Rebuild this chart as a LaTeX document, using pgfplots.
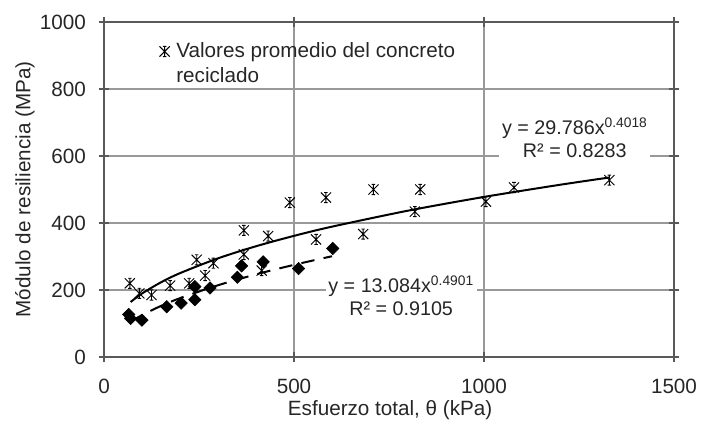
\documentclass[border=0pt]{standalone}
\usepackage{fontspec}
\setmainfont{Liberation Sans}
\usepackage{pgfplots}
\pgfplotsset{compat=1.18}
\pgfdeclareplotmark{xlstar}{%
  \pgfpathmoveto{\pgfqpoint{-\pgfplotmarksize}{-\pgfplotmarksize}}%
  \pgfpathlineto{\pgfqpoint{\pgfplotmarksize}{\pgfplotmarksize}}%
  \pgfpathmoveto{\pgfqpoint{-\pgfplotmarksize}{\pgfplotmarksize}}%
  \pgfpathlineto{\pgfqpoint{\pgfplotmarksize}{-\pgfplotmarksize}}%
  \pgfpathmoveto{\pgfqpoint{0pt}{-\pgfplotmarksize}}%
  \pgfpathlineto{\pgfqpoint{0pt}{\pgfplotmarksize}}%
  \pgfpathmoveto{\pgfqpoint{-0.35\pgfplotmarksize}{\pgfplotmarksize}}%
  \pgfpathlineto{\pgfqpoint{0.35\pgfplotmarksize}{\pgfplotmarksize}}%
  \pgfpathmoveto{\pgfqpoint{-0.35\pgfplotmarksize}{-\pgfplotmarksize}}%
  \pgfpathlineto{\pgfqpoint{0.35\pgfplotmarksize}{-\pgfplotmarksize}}%
  \pgfusepathqstroke}
\begin{document}
\begin{tikzpicture}[font=\fontsize{15.5}{18.5}\selectfont]
\begin{axis}[
  width=427.5pt, height=251.25pt, scale only axis,
  xmin=0, xmax=1500, ymin=0, ymax=1000,
  xtick={0,500,1000,1500}, ytick={0,200,400,600,800,1000},
  /pgf/number format/assume math mode=true,
  /pgf/number format/set thousands separator={},
  grid=major, major grid style={black!40, line width=0.8pt},
  axis line style={black!65, line width=1pt},
  tick style={black!65, line width=0.8pt},
  major tick length=8pt, tick align=center,
  tick label style={text=black!85},
  xticklabel style={yshift=-9pt},
  yticklabel style={xshift=-6pt},
  xlabel={Esfuerzo total, θ (kPa)},
  ylabel={Módulo de resiliencia (MPa)},
  xlabel style={at={(axis description cs:0.502,-0.16)}, anchor=center, text=black!85},
  ylabel style={at={(axis description cs:-0.1386,0.5)}, anchor=center, text=black!85},
  legend style={at={(0.09,0.95)}, anchor=north west, draw=none, fill=none,
    nodes={inner sep=1pt}, text=black!85,
    /tikz/every even column/.append style={column sep=0pt}},
  legend image code/.code={\draw[mark repeat=2,mark phase=2] plot coordinates {(0cm,0cm) (0.2cm,0cm) (0.4cm,0cm)};},
  legend cell align=left,
]
% recycled concrete (asterisks)
\addplot[only marks, mark=xlstar, mark size=3.8pt, black, line width=0.7pt] coordinates {
(68,220) (93,190) (125,185) (174,213) (224,220) (244,290) (266,243) (288,280)
(368,378) (368,306) (415,258) (432,361) (489,461) (558,351) (584,476) (682,367)
(709,500) (818,434) (832,500) (1005,464) (1079,506) (1330,528)
};
\addlegendentry{\kern4pt\vtop{\hbox{Valores promedio del concreto}\hbox{reciclado}}}
% diamonds
\addplot[only marks, mark=square*, mark options={rotate=45}, mark size=3.3pt, black, forget plot] coordinates {
(65,127) (70,115) (100,110) (165,150) (203,161) (239,171) (239,210) (279,206)
(351,238) (362,272) (419,284) (512,264) (602,324)
};
% power trend (solid)
\addplot[black, line width=1.5pt, smooth, forget plot] coordinates {
(70,164.2) (100,189.5) (150,223.0) (200,250.3) (300,294.5) (400,330.6) (500,361.6)
(600,389.1) (800,436.8) (1000,477.8) (1200,514.1) (1330,535.8)
};
% power trend (dashed)
\addplot[black, line width=1.5pt, smooth, dash pattern=on 10pt off 7pt, forget plot] coordinates {
(70,105.0) (100,125.0) (150,152.5) (200,175.6) (300,214.2) (400,246.6) (500,275.1) (600,300.8)
};
\node[fill=white, align=center, inner sep=2pt, text=black!85, font=\fontsize{14.8}{17.5}\selectfont] at (axis cs:1239,654)
  {y = 29.786x\textsuperscript{0.4018}\\R² = 0.8283};
\node[fill=white, align=center, inner sep=2pt, text=black!85, font=\fontsize{14.8}{17.5}\selectfont] at (axis cs:782,182)
  {y = 13.084x\textsuperscript{0.4901}\\R² = 0.9105};
\end{axis}
\path (current axis.south west) ++(-78pt,-51pt) coordinate (bl);
\path (current axis.north east) ++(27.75pt,16.5pt) coordinate (tr);
\pgfresetboundingbox
\path (bl) rectangle (tr);
\end{tikzpicture}
\end{document}
